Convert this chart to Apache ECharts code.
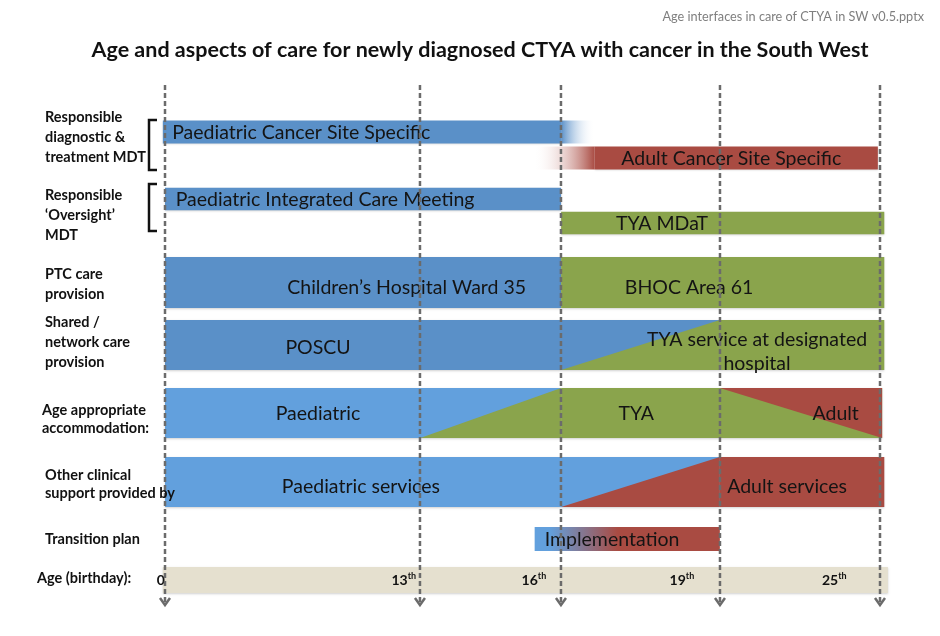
<!DOCTYPE html>
<html>
<head>
<meta charset="utf-8">
<title>Age and aspects of care for newly diagnosed CTYA</title>
<script src="https://cdn.jsdelivr.net/npm/echarts@6/dist/echarts.min.js"></script>
<style>
  html, body { margin: 0; padding: 0; background: #fff; }
  #main { width: 940px; height: 636px; }
</style>
</head>
<body>
<div id="main"></div>
<script>
// schematic position (0-100) of each age milestone on the timeline
const milestones = [0, 35.66, 55.38, 77.62, 100];
const ageLabels = ['0', '13', '16', '19', '25'];
const ageLabelAt = [-0.6, 33.4, 51.6, 72.3, 93.6];

const rowLabels = [
  'Responsible\ndiagnostic &\ntreatment MDT',
  'Responsible\n‘Oversight’\nMDT',
  'PTC care\nprovision',
  'Shared /\nnetwork care\nprovision',
  'Age appropriate\naccommodation:',
  'Other clinical\nsupport provided by',
  'Transition plan',
  'Age (birthday):'
];

// [row, lane, from, to, colour]
const blocks = [
  [0, 0, -0.3, 55.4, 'paed'],
  [0, 1, 60.1, 99.7, 'adult'],
  [1, 0, 0, 55.4, 'paed'],
  [1, 1, 55.4, 100.6, 'tya'],
  [2, 0, 0, 55.4, 'paed'],
  [2, 0, 55.4, 100.6, 'tya'],
  [3, 0, 0, 77.6, 'paed'],
  [3, 0, 77.6, 100.6, 'tya'],
  [4, 0, 0, 55.4, 'paedLight'],
  [4, 0, 55.4, 100.3, 'tya'],
  [5, 0, 0, 77.6, 'paedLight'],
  [5, 0, 77.6, 100.6, 'adult'],
  [7, 0, -0.3, 101.1, 'age']
];

// triangles laid over the blocks: 'rise' = below a line climbing left to right,
// 'fall' = above a line dropping left to right
const ramps = [
  [3, 0, 55.4, 77.6, 'tya', 'rise'],
  [4, 0, 35.7, 55.4, 'tya', 'rise'],
  [4, 0, 77.6, 100.3, 'adult', 'fall'],
  [5, 0, 55.4, 77.6, 'adult', 'rise']
];

// colour blends: [row, lane, from, to, fromColour, toColour] (null = white)
const blends = [
  [0, 0, 55.4, 60.1, 'paed', null],
  [0, 1, 51.5, 60.1, null, 'adult'],
  [6, 0, 51.7, 77.6, 'paedLight', 'adult']
];

// [row, lane, at, text, align]
const texts = [
  [0, 0, 1.0, 'Paediatric Cancer Site Specific', 'left'],
  [0, 1, 79.2, 'Adult Cancer Site Specific', 'center'],
  [1, 0, 1.5, 'Paediatric Integrated Care Meeting', 'left'],
  [1, 1, 69.5, 'TYA MDaT', 'center'],
  [2, 0, 33.8, 'Children’s Hospital Ward 35', 'center'],
  [2, 0, 73.3, 'BHOC Area 61', 'center'],
  [3, 0, 21.4, 'POSCU', 'center'],
  [3, 0, 82.8, 'TYA service at designated\nhospital', 'center'],
  [4, 0, 21.4, 'Paediatric', 'center'],
  [4, 0, 65.9, 'TYA', 'center'],
  [4, 0, 93.8, 'Adult', 'center'],
  [5, 0, 27.4, 'Paediatric services', 'center'],
  [5, 0, 87.0, 'Adult services', 'center'],
  [6, 0, 53.1, 'Implementation', 'left']
];

const palette = {
  paed: '#5a90c8',
  paedLight: '#62a0dd',
  tya: '#8aa44c',
  adult: '#a94b42',
  age: '#e5e0cf'
};

// layout of the row strips
const rowGrids = [
  { top: 119, height: 52, lanes: 2, fill: 0.88, shift: 1 },
  { top: 187, height: 48, lanes: 2, fill: 0.93, shift: 1 },
  { top: 257, height: 51, lanes: 1, fill: 1, shift: 5 },
  { top: 320, height: 50, lanes: 1, fill: 1, shift: 3 },
  { top: 388, height: 50, lanes: 1, fill: 1, shift: 1 },
  { top: 457, height: 50, lanes: 1, fill: 1, shift: 5 },
  { top: 527, height: 24, lanes: 1, fill: 1, shift: 1 },
  { top: 567, height: 26, lanes: 1, fill: 1, shift: 0 }
];
const labelY = [137, 215, 284, 342, 419, 484, 539, 578];
const FONT = 'Lato, "Open Sans", sans-serif';

const chart = echarts.init(document.getElementById('main'));

function shapesOf(r) {
  const list = [];
  blocks.filter(b => b[0] === r).forEach(b =>
    list.push({ kind: 'block', lane: b[1], from: b[2], to: b[3], colour: b[4] }));
  blends.filter(b => b[0] === r).forEach(b =>
    list.push({ kind: 'blend', lane: b[1], from: b[2], to: b[3], c0: b[4], c1: b[5] }));
  ramps.filter(b => b[0] === r).forEach(b =>
    list.push({ kind: 'ramp', lane: b[1], from: b[2], to: b[3], colour: b[4], dir: b[5] }));
  texts.filter(b => b[0] === r).forEach(b =>
    list.push({ kind: 'text', lane: b[1], from: b[2], to: b[2], text: b[3], align: b[4] }));
  if (r === 7) {
    ageLabels.forEach((a, i) =>
      list.push({ kind: 'age', lane: 0, from: ageLabelAt[i], to: ageLabelAt[i], text: a }));
  }
  return list;
}

function rowSeries(r) {
  const list = shapesOf(r);
  const g = rowGrids[r];
  return {
    type: 'custom',
    xAxisIndex: r,
    yAxisIndex: r,
    z: 2,
    silent: true,
    encode: { x: [1, 2], y: 0 },
    data: list.map(s => [s.lane, s.from, s.to]),
    renderItem: function (params, api) {
      const s = list[params.dataIndex];
      const band = api.size([0, 1])[1] * g.fill;
      const p0 = api.coord([s.from, s.lane]);
      const x1 = api.coord([s.to, s.lane])[0];
      const x0 = p0[0], yc = p0[1];
      const top = yc - band / 2, bottom = yc + band / 2;
      if (s.kind === 'block') {
        return {
          type: 'rect',
          shape: { x: x0, y: top, width: x1 - x0, height: band },
          style: {
            fill: palette[s.colour],
            shadowBlur: 2, shadowOffsetY: 1, shadowColor: 'rgba(0,0,0,0.18)'
          }
        };
      }
      if (s.kind === 'blend') {
        const ease = r === 6 ? [0.08, 0.45] : [0, 1];
        const a = s.c0 ? palette[s.c0] : 'rgba(255,255,255,0)';
        const b = s.c1 ? palette[s.c1] : 'rgba(255,255,255,0)';
        return {
          type: 'rect',
          shape: { x: x0, y: top, width: x1 - x0, height: band },
          style: {
            fill: new echarts.graphic.LinearGradient(0, 0, 1, 0, [
              { offset: ease[0], color: a },
              { offset: ease[1], color: b }
            ])
          }
        };
      }
      if (s.kind === 'ramp') {
        const pts = s.dir === 'rise'
          ? [[x0, bottom], [x1, top], [x1, bottom]]
          : [[x0, top], [x1, top], [x1, bottom]];
        return { type: 'polygon', shape: { points: pts }, style: { fill: palette[s.colour] } };
      }
      if (s.kind === 'text') {
        // two-line captions sit a little lower in the original
        const extra = s.text.indexOf('\n') >= 0 ? 4 : 0;
        return {
          type: 'text', x: x0, y: yc + g.shift + extra, z2: 5,
          style: {
            text: s.text, fill: '#141414', font: '19.5px ' + FONT,
            align: s.align, verticalAlign: 'middle', lineHeight: 24
          }
        };
      }
      // age tick labels with superscript ordinal
      return {
        type: 'text', x: x0, y: yc, z2: 5,
        style: {
          text: s.text === '0' ? '{n|0}' : '{n|' + s.text + '}{s|th}',
          align: 'center', verticalAlign: 'middle',
          rich: {
            n: { font: 'bold 14px ' + FONT, fill: '#111', lineHeight: 16 },
            s: { font: 'bold 9px ' + FONT, fill: '#111', verticalAlign: 'top', lineHeight: 16, padding: [0, 0, 7, 0] }
          }
        }
      };
    }
  };
}

const grids = rowGrids.map(g => ({ left: 165, right: 60, top: g.top, height: g.height }));
grids.push({ left: 165, right: 60, top: 85, height: 520 });

const xAxes = grids.map((g, i) => ({ gridIndex: i, type: 'value', min: 0, max: 100, show: false }));
const yAxes = rowGrids.map((g, i) => ({
  gridIndex: i, type: 'category', inverse: true, show: false,
  data: g.lanes === 2 ? ['a', 'b'] : ['a']
}));
yAxes.push({ gridIndex: 8, type: 'value', min: 0, max: 1, show: false });

const series = rowGrids.map((g, r) => rowSeries(r));
// dashed age milestone lines with arrow heads
series.push({
  type: 'custom',
  xAxisIndex: 8,
  yAxisIndex: 8,
  z: 10,
  silent: true,
  data: milestones.map(m => [m]),
  encode: { x: 0 },
  renderItem: function (params, api) {
    const x = api.coord([api.value(0), 1])[0];
    const top = api.coord([api.value(0), 1])[1];
    const bottom = api.coord([api.value(0), 0])[1];
    return {
      type: 'group',
      children: [
        {
          type: 'line',
          shape: { x1: x, y1: top, x2: x, y2: bottom - 1 },
          style: { stroke: '#6b6b6b', lineWidth: 2.5, lineDash: [5, 3] }
        },
        {
          type: 'polyline',
          shape: { points: [[x - 5, bottom - 7], [x, bottom], [x + 5, bottom - 7]] },
          style: { stroke: '#6b6b6b', lineWidth: 2.5, fill: null }
        }
      ]
    };
  }
});

const graphics = [
  {
    type: 'text', right: 16, top: 10,
    style: { text: 'Age interfaces in care of CTYA in SW v0.5.pptx', font: '12.7px ' + FONT, fill: '#7f7f7f' }
  },
  {
    type: 'text', x: 480, y: 50,
    style: {
      text: 'Age and aspects of care for newly diagnosed CTYA with cancer in the South West',
      font: 'bold 21.5px ' + FONT, fill: '#111', align: 'center', verticalAlign: 'middle'
    }
  },
  {
    type: 'polyline',
    shape: { points: [[157, 120], [149, 120], [149, 170], [157, 170]] },
    style: { stroke: '#111', lineWidth: 2.5, fill: null }
  },
  {
    type: 'polyline',
    shape: { points: [[157, 184], [149, 184], [149, 231], [157, 231]] },
    style: { stroke: '#111', lineWidth: 2.5, fill: null }
  }
];
rowLabels.forEach((t, i) => {
  graphics.push({
    type: 'text', x: i === 7 ? 37 : (i === 4 ? 42 : 45), y: labelY[i], z: 20,
    style: {
      text: t, font: 'bold 14.5px ' + FONT, fill: '#111',
      verticalAlign: 'middle', lineHeight: i === 4 || i === 5 ? 18 : 20
    }
  });
});

chart.setOption({
  animation: false,
  backgroundColor: '#fff',
  grid: grids,
  xAxis: xAxes,
  yAxis: yAxes,
  series: series,
  graphic: graphics
});
</script>
</body>
</html>
